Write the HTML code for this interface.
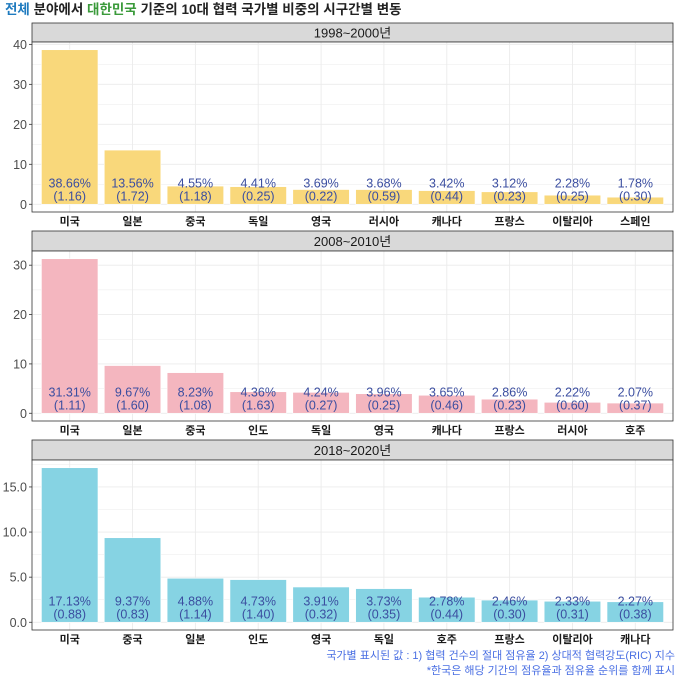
<!DOCTYPE html>
<html><head><meta charset="utf-8"><style>
body{margin:0;background:#fff;}
svg{display:block;font-family:"Liberation Sans","Noto Sans CJK KR",sans-serif;}
</style></head><body>
<svg id="c" width="680" height="680"></svg>
<script>
const cats1=["미국","일본","중국","독일","영국","러시아","캐나다","프랑스","이탈리아","스페인"];
const vals1=[38.66,13.56,4.55,4.41,3.69,3.68,3.42,3.12,2.28,1.78];
const ric1=["1.16","1.72","1.18","0.25","0.22","0.59","0.44","0.23","0.25","0.30"];
const ticks1=[0,10,20,30,40];
const cats2=["미국","일본","중국","인도","독일","영국","캐나다","프랑스","러시아","호주"];
const vals2=[31.31,9.67,8.23,4.36,4.24,3.96,3.65,2.86,2.22,2.07];
const ric2=["1.11","1.60","1.08","1.63","0.27","0.25","0.46","0.23","0.60","0.37"];
const ticks2=[0,10,20,30];
const cats3=["미국","중국","일본","인도","영국","독일","호주","프랑스","이탈리아","캐나다"];
const vals3=[17.13,9.37,4.88,4.73,3.91,3.73,2.78,2.46,2.33,2.27];
const ric3=["0.88","0.83","1.14","1.40","0.32","0.35","0.44","0.30","0.31","0.38"];
const ticks3=["0.0","5.0","10.0","15.0"];
const NS="http://www.w3.org/2000/svg";
const svg=document.getElementById('c');
function mk(tag,attrs,parent){const e=document.createElementNS(NS,tag);for(const k in attrs)e.setAttribute(k,attrs[k]);(parent||svg).appendChild(e);return e;}
const t=mk('text',{x:5,y:14,'font-size':13.5,'font-weight':'bold',fill:'#222'});


t.innerHTML='<tspan fill="#1f7bbf">전체</tspan> 분야에서 <tspan fill="#3a9a3a">대한민국</tspan> 기준의 10대 협력 국가별 비중의 시구간별 변동';
const L=32,R=673;
function panel(name,label,stripTop,top,bottom,cats,vals,ric,ticks,color){
  const g=mk('g',{});
  
  
  const s=mk('rect',{x:L,y:stripTop,width:R-L,height:top-stripTop,fill:'#d9d9d9',stroke:'#333','stroke-width':0.8},g);
  
  
  const st=mk('text',{x:(L+R)/2,y:(stripTop+top)/2+5,'text-anchor':'middle','font-size':13,fill:'#1a1a1a'},g);
  st.textContent=label;
  
  
  mk('rect',{x:L,y:top,width:R-L,height:bottom-top,fill:'#fff'},g);
  const maxv=Math.max(...vals);
  const lo=-0.05*maxv, hi=1.05*maxv;
  const y=v=>bottom-(v-lo)/(hi-lo)*(bottom-top);
  const unit=(R-L)/(cats.length+0.2);
  const x=i=>L+(0.6+i)*unit;
  const tv=ticks.map(Number);
  const step=tv[1]-tv[0];
  for(let v=tv[0]-step/2;v<=hi;v+=step/2){ if(v<lo)continue;
    mk('line',{x1:L,x2:R,y1:y(v),y2:y(v),stroke:'#ebebeb','stroke-width':(Math.abs((v-tv[0])/step%1)<1e-6)?0.9:0.5},g);}
  cats.forEach((c,i)=>mk('line',{x1:x(i),x2:x(i),y1:top,y2:bottom,stroke:'#ebebeb','stroke-width':0.9},g));
  cats.forEach((c,i)=>{
    const b=mk('rect',{x:x(i)-unit*0.45,y:y(vals[i]),width:unit*0.9,height:y(0)-y(vals[i]),fill:color,stroke:'#fff','stroke-width':0.6},g);
    
    
    const l1=mk('text',{x:x(i),y:y(0)-17,'text-anchor':'middle','font-size':12.5,fill:'#3b4ea0'},g);
    l1.textContent=vals[i].toFixed(2)+'%';
    
    
    const l2=mk('text',{x:x(i),y:y(0)-4,'text-anchor':'middle','font-size':12.5,fill:'#3b4ea0'},g);
    l2.textContent='('+ric[i]+')';
    
    
    const xl=mk('text',{x:x(i),y:bottom+13,'text-anchor':'middle','font-size':11,'font-weight':'bold',fill:'#1a1a1a'},g);
    xl.textContent=c;
    
    
  });
  ticks.forEach(tk=>{
    const v=Number(tk);
    mk('line',{x1:L-3,x2:L,y1:y(v),y2:y(v),stroke:'#333','stroke-width':0.8},g);
    const yl=mk('text',{x:L-5,y:y(v)+4.5,'text-anchor':'end','font-size':12.5,fill:'#4d4d4d'},g);
    yl.textContent=tk;
    
    
  });
  mk('rect',{x:L,y:top,width:R-L,height:bottom-top,fill:'none',stroke:'#333','stroke-width':0.8},g);
}
panel('panel-1998-2000','1998~2000년',23,42,212,cats1,vals1,ric1,ticks1,'#f9d87b');
panel('panel-2008-2010','2008~2010년',231,251,421,cats2,vals2,ric2,ticks2,'#f4b6bf');
panel('panel-2018-2020','2018~2020년',440,460,630,cats3,vals3,ric3,ticks3,'#86d3e3');
const c1=mk('text',{x:675,y:659,'text-anchor':'end','font-size':11,fill:'#4a6fe3'});
c1.textContent='국가별 표시된 값 : 1) 협력 건수의 절대 점유율 2) 상대적 협력강도(RIC) 지수';


const c2=mk('text',{x:675,y:674,'text-anchor':'end','font-size':11,fill:'#4a6fe3'});
c2.textContent='*한국은 해당 기간의 점유율과 점유율 순위를 함께 표시';


</script>
</body></html>
